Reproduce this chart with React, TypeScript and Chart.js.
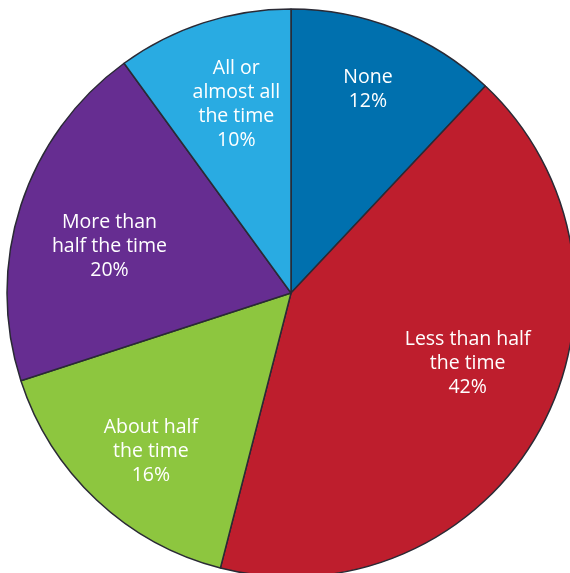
import React, { useEffect, useRef } from "react";
import { Chart, registerables } from "chart.js";

Chart.register(...registerables);

const categories: string[][] = [
  ["None"],
  ["Less than half", "the time"],
  ["About half", "the time"],
  ["More than", "half the time"],
  ["All or", "almost all", "the time"],
];
const values: number[] = [12, 42, 16, 20, 10];
const colors: string[] = ["#0070AE", "#BE1E2D", "#8DC63F", "#662D91", "#29ABE2"];
// label placement: [fraction of radius, fraction along slice angle]
const labelRadius: number[] = [0.765, 0.67, 0.745, 0.66, 0.69];
const labelAngle: number[] = [0.48, 0.454, 0.47, 0.45, 0.55];

const labelPlugin = {
  id: "sliceLabels",
  afterDatasetsDraw(chart: any) {
    const ctx = chart.ctx;
    const meta = chart.getDatasetMeta(0);
    ctx.save();
    ctx.fillStyle = "#ffffff";
    ctx.font = '19.5px "Open Sans"';
    ctx.textAlign = "center";
    ctx.textBaseline = "middle";
    const lh = 24;
    meta.data.forEach((arc: any, i: number) => {
      const p = arc.getProps(["x", "y", "startAngle", "endAngle", "outerRadius"], true);
      const a = p.startAngle + (p.endAngle - p.startAngle) * labelAngle[i];
      const r = p.outerRadius * labelRadius[i];
      const cx = p.x + Math.cos(a) * r;
      const cy = p.y + Math.sin(a) * r;
      const lines = [...categories[i], values[i] + "%"];
      const top = cy - ((lines.length - 1) * lh) / 2;
      lines.forEach((t, j) => ctx.fillText(t, cx, top + j * lh));
    });
    ctx.restore();
  },
};

export default function App() {
  const ref = useRef<HTMLCanvasElement>(null);
  useEffect(() => {
    document.body.style.margin = "0";
    const chart = new Chart(ref.current!, {
      type: "pie",
      data: {
        labels: categories.map((c) => c.join(" ")),
        datasets: [
          {
            data: values,
            backgroundColor: colors,
            borderColor: "#2a2a35",
            borderWidth: 1.5,
            radius: 284,
          },
        ],
      },
      options: {
        animation: false,
        responsive: false,
        layout: { padding: 0 },
        plugins: { legend: { display: false }, tooltip: { enabled: false } },
      },
      plugins: [labelPlugin],
    });
    return () => chart.destroy();
  }, []);
  return (
    <div style={{ position: "fixed", left: 0, top: 0, width: 570, height: 573, overflow: "hidden", background: "#fff" }}>
      <canvas ref={ref} width={600} height={600} style={{ position: "absolute", left: -9, top: -7, width: 600, height: 600 }} />
    </div>
  );
}
